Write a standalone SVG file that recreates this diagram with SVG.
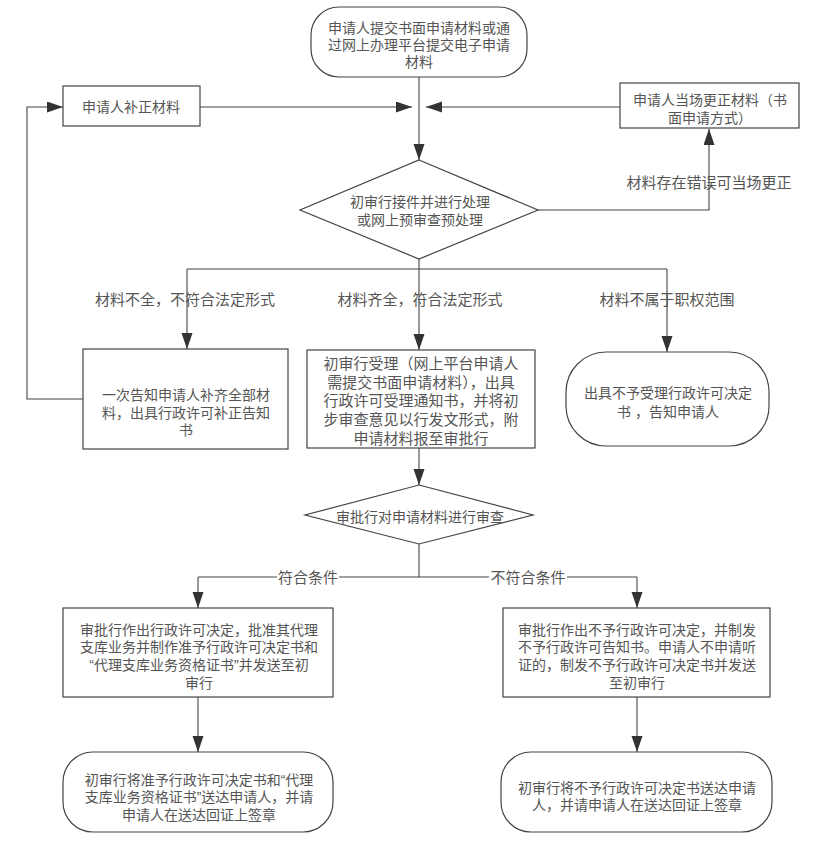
<svg xmlns="http://www.w3.org/2000/svg" width="819" height="844" viewBox="0 0 819 844">
<defs>
<style>
.n{fill:#fff;stroke:#444;stroke-width:1.2}
.t{font-family:"Liberation Sans","Noto Sans CJK SC",sans-serif;font-size:14px;fill:#555;text-anchor:middle;dominant-baseline:central}
.t15{font-size:15px}
.l{font-family:"Liberation Sans","Noto Sans CJK SC",sans-serif;font-size:15px;fill:#555;text-anchor:middle;dominant-baseline:central}
.c{fill:none;stroke:#444;stroke-width:1.1}
</style>
<marker id="a" markerUnits="userSpaceOnUse" markerWidth="16" markerHeight="12" refX="16" refY="5.5" orient="auto">
<path d="M0,0 L16,5.5 L0,11 z" fill="#333"/>
</marker>
</defs>
<rect width="819" height="844" fill="#fff"/>

<g id="connectors">
<path class="c" d="M419,77 V160" marker-end="url(#a)"/>
<path class="c" d="M200,107 H412" marker-end="url(#a)"/>
<path class="c" d="M620,107 H426" marker-end="url(#a)"/>
<path class="c" d="M538,210 H709 V129" marker-end="url(#a)"/>
<path class="c" d="M419,259 V350" marker-end="url(#a)"/>
<path class="c" d="M187,269 H667"/>
<path class="c" d="M187,269 V349" marker-end="url(#a)"/>
<path class="c" d="M667,269 V352" marker-end="url(#a)"/>
<path class="c" d="M83,399 H27 V107 H63" marker-end="url(#a)"/>
<path class="c" d="M419,448 V485" marker-end="url(#a)"/>
<path class="c" d="M419,544 V577 M198,577 H637"/>
<path class="c" d="M198,577 V608" marker-end="url(#a)"/>
<path class="c" d="M637,577 V608" marker-end="url(#a)"/>
<path class="c" d="M198,697 V752" marker-end="url(#a)"/>
<path class="c" d="M637,697 V752" marker-end="url(#a)"/>
<text class="l" x="185" y="299">材料不全，不符合法定形式</text>
<text class="l" x="420" y="299">材料齐全，符合法定形式</text>
<text class="l" x="667" y="299">材料不属于职权范围</text>
<text class="l" x="709" y="182">材料存在错误可当场更正</text>
<rect x="277" y="568" width="62" height="18" fill="#fff"/>
<text class="l" x="308" y="577">符合条件</text>
<rect x="489" y="568" width="78" height="18" fill="#fff"/>
<text class="l" x="528" y="577">不符合条件</text>
</g>

<g id="start">
<rect class="n" x="311" y="7" width="216" height="70" rx="28" ry="28"/>
<text class="t" x="419" y="28">申请人提交书面申请材料或通</text>
<text class="t" x="419" y="45">过网上办理平台提交电子申请</text>
<text class="t" x="419" y="62">材料</text>
</g>

<g id="supplement">
<rect class="n" x="63" y="86" width="137" height="40"/>
<text class="t" x="131" y="107">申请人补正材料</text>
</g>

<g id="onsite">
<rect class="n" x="620" y="83" width="179" height="45"/>
<text class="t" x="710" y="100">申请人当场更正材料（书</text>
<text class="t" x="710" y="118">面申请方式）</text>
</g>

<g id="decision1">
<polygon class="n" points="419,160 538,210 419,259 300,210"/>
<text class="t" x="420" y="202">初审行接件并进行处理</text>
<text class="t" x="420" y="220">或网上预审查预处理</text>
</g>

<g id="notify">
<rect class="n" x="83" y="349" width="205" height="100"/>
<text class="t" x="186" y="395">一次告知申请人补齐全部材</text>
<text class="t" x="186" y="413">料，出具行政许可补正告知</text>
<text class="t" x="186" y="430">书</text>
</g>

<g id="accept">
<rect class="n" x="307" y="350" width="228" height="98"/>
<text class="t t15" x="421" y="363">初审行受理（网上平台申请人</text>
<text class="t t15" x="421" y="382">需提交书面申请材料），出具</text>
<text class="t t15" x="421" y="400">行政许可受理通知书，并将初</text>
<text class="t t15" x="421" y="419">步审查意见以行发文形式，附</text>
<text class="t t15" x="421" y="438">申请材料报至审批行</text>
</g>

<g id="reject">
<rect class="n" x="566" y="352" width="203" height="94" rx="40" ry="40"/>
<text class="t" x="668" y="393">出具不予受理行政许可决定</text>
<text class="t" x="668" y="412">书 ，告知申请人</text>
</g>

<g id="decision2">
<polygon class="n" points="419,485 533,515 419,544 305,515"/>
<text class="t" x="420" y="517">审批行对申请材料进行审查</text>
</g>

<g id="approve">
<rect class="n" x="63" y="608" width="270" height="89"/>
<text class="t" x="199" y="630">审批行作出行政许可决定，批准其代理</text>
<text class="t" x="199" y="647">支库业务并制作准予行政许可决定书和</text>
<text class="t" x="199" y="665">“代理支库业务资格证书”并发送至初</text>
<text class="t" x="199" y="683">审行</text>
</g>

<g id="deny">
<rect class="n" x="503" y="608" width="267" height="89"/>
<text class="t" x="637" y="630">审批行作出不予行政许可决定，并制发</text>
<text class="t" x="637" y="647">不予行政许可告知书。申请人不申请听</text>
<text class="t" x="637" y="665">证的，制发不予行政许可决定书并发送</text>
<text class="t" x="637" y="683">至初审行</text>
</g>

<g id="deliver-approve">
<rect class="n" x="63" y="752" width="270" height="80" rx="30" ry="30"/>
<text class="t" x="199" y="780">初审行将准予行政许可决定书和“代理</text>
<text class="t" x="199" y="797">支库业务资格证书”送达申请人，并请</text>
<text class="t" x="199" y="815">申请人在送达回证上签章</text>
</g>

<g id="deliver-deny">
<rect class="n" x="501" y="752" width="271" height="80" rx="30" ry="30"/>
<text class="t" x="637" y="788">初审行将不予行政许可决定书送达申请</text>
<text class="t" x="637" y="805">人，并请申请人在送达回证上签章</text>
</g>
</svg>
